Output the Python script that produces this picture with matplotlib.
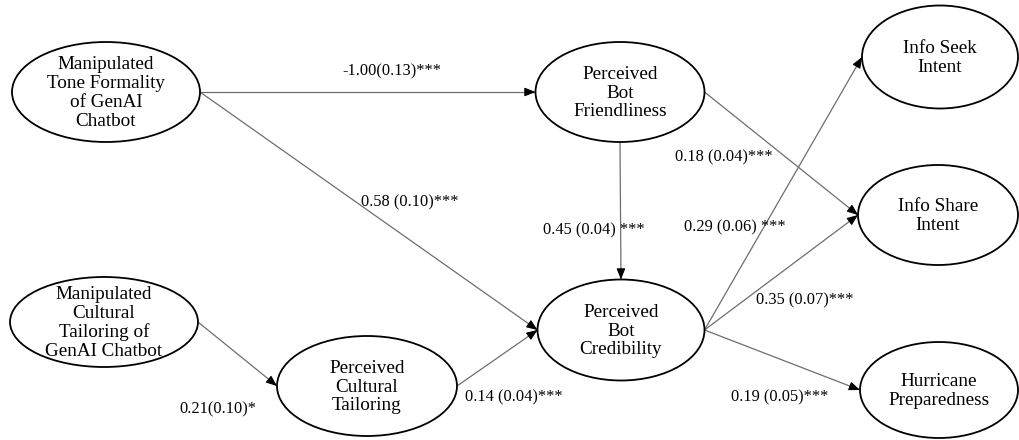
#! /usr/bin/env python3
# coding: utf-8

import matplotlib
matplotlib.use("Agg")
import matplotlib.pyplot as plt
from matplotlib.patches import Ellipse

plt.rcParams["font.family"] = ["Liberation Serif", "DejaVu Serif"]

# nodes of the path model
node_names = [
    "tone", "friendly", "cred", "manip_cult", "perc_cult",
    "seek", "share", "hurricane",
]
node_labels = [
    "Manipulated\nTone Formality\nof GenAI\nChatbot",
    "Perceived\nBot\nFriendliness",
    "Perceived\nBot\nCredibility",
    "Manipulated\nCultural\nTailoring of\nGenAI Chatbot",
    "Perceived\nCultural\nTailoring",
    "Info Seek\nIntent",
    "Info Share\nIntent",
    "Hurricane\nPreparedness",
]

# paths: source, target, coefficient label
path_sources = ["tone", "tone", "friendly", "manip_cult", "perc_cult",
                "friendly", "cred", "cred", "cred"]
path_targets = ["friendly", "cred", "cred", "perc_cult", "cred",
                "share", "seek", "share", "hurricane"]
path_labels = [
    "-1.00(0.13)***",
    "0.58 (0.10)***",
    "0.45 (0.04) ***",
    "0.21(0.10)*",
    "0.14 (0.04)***",
    "0.18 (0.04)***",
    "0.29 (0.06) ***",
    "0.35 (0.07)***",
    "0.19 (0.05)***",
]

# layout (pixel coordinates, y down)
node_geom = {
    "tone": (106, 92, 188, 100),
    "friendly": (620, 92, 169, 100),
    "cred": (621, 330, 167, 101),
    "manip_cult": (104, 322, 188, 90),
    "perc_cult": (367, 386, 180, 100),
    "seek": (940, 57, 156, 103),
    "share": (938, 215, 160, 100),
    "hurricane": (939, 390, 158, 96),
}
path_anchors = [
    ("right", "left"), ("right", "left"), ("bottom", "top"),
    ("right", "left"), ("right", "left"), ("right", "left"),
    ("right", "left"), ("right", "left"), ("right", "left"),
]
label_xy = [
    (392, 71), (410, 202), (594, 230), (218, 409), (514, 397),
    (724, 157), (735, 227), (805, 300), (780, 397),
]


def anchor(name, side):
    cx, cy, w, h = node_geom[name]
    if side == "right":
        return cx + w / 2, cy
    if side == "left":
        return cx - w / 2, cy
    if side == "top":
        return cx, cy - h / 2
    return cx, cy + h / 2


fig = plt.figure(figsize=(10.2, 4.4), dpi=100)
ax = fig.add_axes([0, 0, 1, 1])
ax.set_xlim(0, 1020)
ax.set_ylim(440, 0)
ax.axis("off")

for name, label in zip(node_names, node_labels):
    cx, cy, w, h = node_geom[name]
    ax.add_patch(Ellipse((cx, cy), w, h, facecolor="white",
                         edgecolor="black", lw=1.3, zorder=2))
    ax.text(cx, cy + 1, label, ha="center", va="center", fontsize=13.8,
            linespacing=1.13, zorder=3)

for src, dst, lab, (s_side, d_side), (lx, ly) in zip(
        path_sources, path_targets, path_labels, path_anchors, label_xy):
    x0, y0 = anchor(src, s_side)
    x1, y1 = anchor(dst, d_side)
    ax.plot([x0, x1], [y0, y1], color="#6e6e6e", lw=0.9, zorder=1)
    # small black head at the target end
    dx, dy = x1 - x0, y1 - y0
    length = (dx ** 2 + dy ** 2) ** 0.5
    bx, by = x1 - dx / length * 8, y1 - dy / length * 8
    ax.annotate("", xy=(x1, y1), xytext=(bx, by),
                arrowprops=dict(arrowstyle="-|>,head_length=0.55,head_width=0.22",
                                color="black", lw=0.8, shrinkA=0, shrinkB=0,
                                mutation_scale=12),
                zorder=4)
    ax.text(lx, ly, lab, ha="center", va="center", fontsize=11.8, zorder=5)

fig.savefig("out.png", dpi=100, facecolor="white")
